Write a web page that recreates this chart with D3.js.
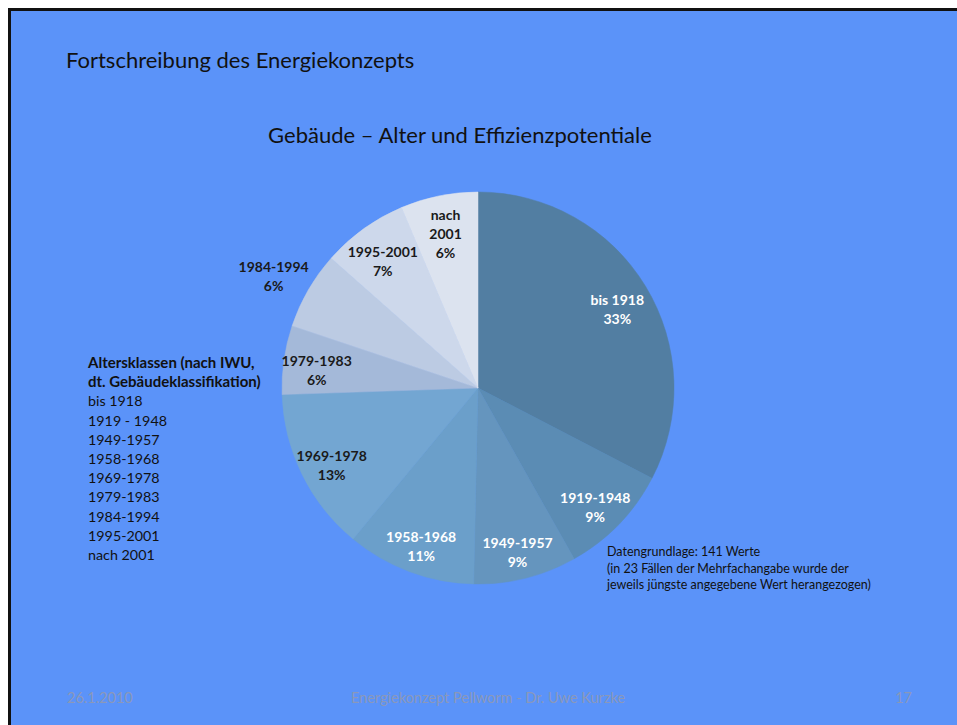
<!DOCTYPE html>
<html>
<head>
<meta charset="utf-8">
<script src="https://cdn.jsdelivr.net/npm/d3@7"></script>
<style>
  body { margin: 0; background: #fff; }
  text { font-family: Lato, "Open Sans", sans-serif; }
</style>
</head>
<body>
<div id="chart"></div>
<script>
// Altersklassen und Anzahl der Gebäude (141 Werte)
const categories = ["bis 1918", "1919-1948", "1949-1957", "1958-1968", "1969-1978",
                    "1979-1983", "1984-1994", "1995-2001", "nach 2001"];
const counts = [46, 13, 12, 15, 19, 8, 9, 10, 9];
const legendItems = ["bis 1918", "1919 - 1948", "1949-1957", "1958-1968", "1969-1978",
                     "1979-1983", "1984-1994", "1995-2001", "nach 2001"];
const legendTitle = ["Altersklassen (nach IWU,", "dt. Gebäudeklassifikation)"];
const noteLines = ["Datengrundlage: 141 Werte",
                   "(in 23 Fällen der Mehrfachangabe wurde der",
                   "jeweils jüngste angegebene Wert herangezogen)"];
const footer = ["26.1.2010", "Energiekonzept Pellworm - Dr. Uwe Kurzke", "17"];

const width = 957;
const height = 725;

const svg = d3.select("#chart")
    .append("svg")
    .attr("width", width)
    .attr("height", height);

// Folie
svg.append("rect")
    .attr("x", 9.5)
    .attr("y", 9.5)
    .attr("width", width + 20)
    .attr("height", height + 20)
    .attr("fill", "#5b93f9")
    .attr("stroke", "#111")
    .attr("stroke-width", 3);

svg.append("text")
    .attr("x", 66)
    .attr("y", 68)
    .attr("font-size", 22)
    .attr("fill", "#111")
    .text("Fortschreibung des Energiekonzepts");

svg.append("text")
    .attr("x", 460)
    .attr("y", 143)
    .attr("text-anchor", "middle")
    .attr("font-size", 22)
    .attr("fill", "#111")
    .text("Gebäude – Alter und Effizienzpotentiale");

// Pie
const cx = 478, cy = 388, radius = 196;
const total = d3.sum(counts);

const color = d3.scaleOrdinal()
    .domain(categories)
    .range(["#527ea2", "#5b8cb4", "#6595be", "#6b9fca", "#73a6d2",
            "#a4b9d9", "#bccbe3", "#cdd8eb", "#dce3ef"]);

const darkSlices = ["bis 1918", "1919-1948", "1949-1957", "1958-1968"];
const outsideLabels = ["1984-1994"];

const pie = d3.pie().sort(null).value(d => d.value);
const arcs = pie(categories.map((c, i) => ({ name: c, value: counts[i] })));

const arc = d3.arc().innerRadius(0).outerRadius(radius);
const labelArc = d3.arc().innerRadius(163).outerRadius(163);
const outerArc = d3.arc().innerRadius(236).outerRadius(236);

const g = svg.append("g")
    .attr("transform", `translate(${cx},${cy})`);

g.selectAll("path")
    .data(arcs)
    .join("path")
    .attr("d", arc)
    .attr("fill", d => color(d.data.name))
    .attr("stroke", d => color(d.data.name))
    .attr("stroke-width", 0.5);

const pct = d3.format(".0%");

const labels = g.selectAll("text.lbl")
    .data(arcs)
    .join("text")
    .attr("class", "lbl")
    .attr("text-anchor", "middle")
    .attr("font-size", 14)
    .attr("font-weight", "bold")
    .attr("fill", d => darkSlices.includes(d.data.name) ? "#fff" : "#1a1a1a")
    .attr("transform", d => {
        const p = outsideLabels.includes(d.data.name) ? outerArc.centroid(d) : labelArc.centroid(d);
        return `translate(${p[0]},${p[1] + 6})`;
    });

labels.each(function(d) {
    const lines = d.data.name === "nach 2001"
        ? ["nach", "2001", pct(d.data.value / total)]
        : [d.data.name, pct(d.data.value / total)];
    const t = d3.select(this);
    const y0 = -(lines.length - 1) * 19 / 2 + 5;
    lines.forEach((l, i) => {
        t.append("tspan")
            .attr("x", 0)
            .attr("y", y0 + i * 19)
            .text(l);
    });
});

// Legende
const legend = svg.append("g")
    .attr("transform", "translate(88,368)");

legend.selectAll("text.title")
    .data(legendTitle)
    .join("text")
    .attr("class", "title")
    .attr("y", (d, i) => i * 19.2)
    .attr("font-size", 15)
    .attr("font-weight", "bold")
    .attr("fill", "#111")
    .text(d => d);

legend.selectAll("text.item")
    .data(legendItems)
    .join("text")
    .attr("class", "item")
    .attr("y", (d, i) => 38.4 + i * 19.2)
    .attr("font-size", 14.3)
    .attr("fill", "#111")
    .text(d => d);

// Hinweis
svg.append("g")
    .attr("transform", "translate(607,556)")
    .selectAll("text")
    .data(noteLines)
    .join("text")
    .attr("y", (d, i) => i * 16.5)
    .attr("font-size", 12.5)
    .attr("fill", "#111")
    .text(d => d);

// Fußzeile
const footerX = [67, 488, 912];
const footerAnchor = ["start", "middle", "end"];
svg.selectAll("text.footer")
    .data(footer)
    .join("text")
    .attr("class", "footer")
    .attr("x", (d, i) => footerX[i])
    .attr("y", 703)
    .attr("text-anchor", (d, i) => footerAnchor[i])
    .attr("font-size", 14.5)
    .attr("fill", "#8a98b9")
    .text(d => d);
</script>
</body>
</html>
